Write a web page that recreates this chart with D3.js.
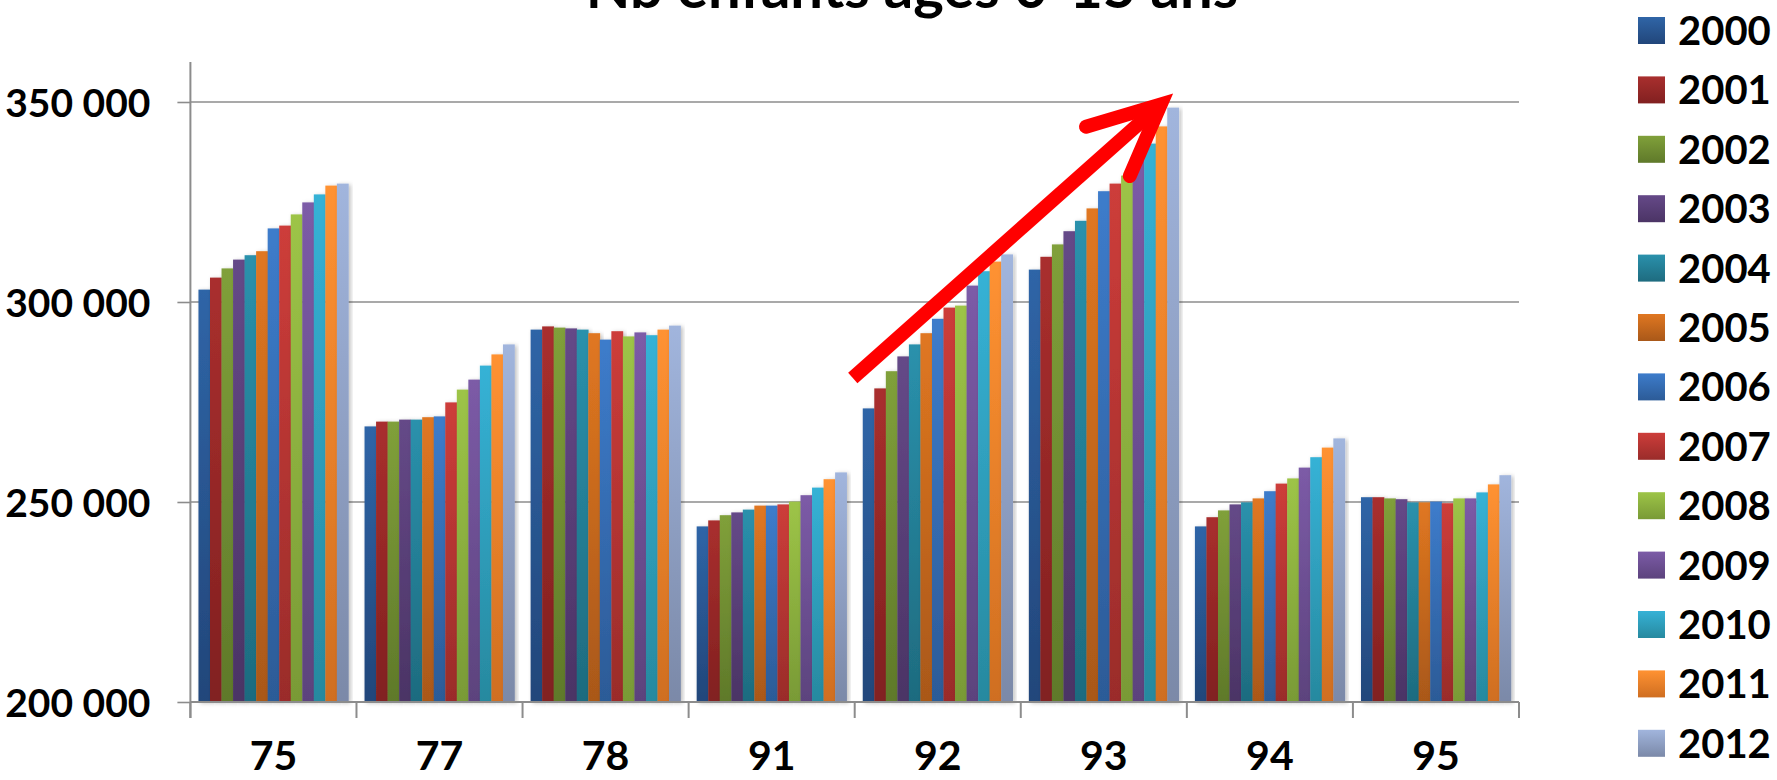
<!DOCTYPE html>
<html>
<head>
<meta charset="utf-8">
<script src="https://cdn.jsdelivr.net/npm/d3@7"></script>
<style>
  body { margin: 0; background: #fff; }
  text { font-family: Lato, "Open Sans", sans-serif; font-weight: bold; fill: #000; }
</style>
</head>
<body>
<div id="chart"></div>
<script>
// departements
var departements = ["75", "77", "78", "91", "92", "93", "94", "95"];
var years = ["2000", "2001", "2002", "2003", "2004", "2005", "2006", "2007", "2008", "2009", "2010", "2011", "2012"];

// one array per departement, values 2000..2012
var v75 = [303100, 306100, 308400, 310600, 311700, 312700, 318400, 319100, 321900, 324900, 326900, 329100, 329600];
var v77 = [268900, 270100, 270100, 270600, 270600, 271200, 271400, 274900, 278100, 280600, 284100, 286900, 289400];
var v78 = [293100, 293900, 293600, 293400, 293100, 292200, 290600, 292700, 291400, 292400, 291700, 293100, 294100];
var v91 = [243900, 245400, 246700, 247400, 248100, 249100, 249100, 249400, 250100, 251700, 253600, 255700, 257400];
var v92 = [273400, 278400, 282700, 286400, 289400, 292200, 295800, 298600, 299100, 304100, 307700, 310100, 311900];
var v93 = [308100, 311300, 314400, 317700, 320300, 323400, 327700, 329600, 331600, 336100, 339600, 343900, 348600];
var v94 = [243900, 246200, 247900, 249400, 249900, 250900, 252700, 254600, 255900, 258600, 261200, 263600, 265900];
var v95 = [251200, 251200, 250900, 250700, 249900, 249900, 250100, 249700, 250900, 250900, 252400, 254400, 256700];

var yTicks = [200000, 250000, 300000, 350000];

// gradient top / bottom colours per year
var colTop = ["#2f65a7", "#a92f2e", "#80a03a", "#654988", "#2a91ac", "#e07721", "#3d7ccb", "#cd3d3a", "#9dc447", "#7c5ba7", "#36b2d6", "#ff9232", "#a1b5dd"];
var colBot = ["#22467a", "#812020", "#5f792a", "#4b3465", "#1e6b7f", "#a95819", "#2c5b97", "#9a2c2a", "#799a36", "#5c437d", "#27899f", "#cf6e21", "#7b89a8"];

function init() {
    var w = 1777, h = 780;
    var margin = {top: 62, left: 190.4, right: 258, bottom: 77.6};

    var rows = departements.map(function (d, i) {
        return {dep: d, values: [v75, v77, v78, v91, v92, v93, v94, v95][i]};
    });

    var svg = d3.select("#chart")
        .append("svg")
        .attr("width", w)
        .attr("height", h);

    var defs = svg.append("defs");
    years.forEach(function (yr, i) {
        var g = defs.append("linearGradient")
            .attr("id", "g" + yr)
            .attr("x1", 0).attr("y1", 0).attr("x2", 0).attr("y2", 1);
        g.append("stop").attr("offset", "0%").attr("stop-color", colTop[i]);
        g.append("stop").attr("offset", "100%").attr("stop-color", colBot[i]);
    });
    var shadow = defs.append("filter").attr("id", "shadow")
        .attr("x", "-20%").attr("y", "-5%").attr("width", "150%").attr("height", "115%");
    shadow.append("feDropShadow")
        .attr("dx", 2).attr("dy", 1).attr("stdDeviation", 2)
        .attr("flood-color", "#000").attr("flood-opacity", 0.25);

    var x0 = d3.scaleBand()
        .domain(departements)
        .range([margin.left, w - margin.right])
        .paddingInner(0.097)
        .paddingOuter(0.0485);

    var x1 = d3.scaleBand()
        .domain(years)
        .range([0, x0.bandwidth()]);

    var y = d3.scaleLinear()
        .domain([200000, 360000])
        .range([h - margin.bottom - 0.4, margin.top]);

    var fmt = function (d) { return d3.format(",")(d).replace(/,/g, " "); };

    // gridlines
    svg.append("g")
        .selectAll("line")
        .data(yTicks.slice(1))
        .enter()
        .append("line")
        .attr("x1", margin.left)
        .attr("x2", w - margin.right)
        .attr("y1", function (d) { return y(d); })
        .attr("y2", function (d) { return y(d); })
        .attr("stroke", "#8c8c8c")
        .attr("stroke-width", 1.6);

    // y axis
    var yAxis = svg.append("g")
        .attr("transform", "translate(" + margin.left + ",0)")
        .call(d3.axisLeft(y).tickValues(yTicks).tickFormat(fmt).tickSize(13).tickPadding(27));
    yAxis.select(".domain").remove();
    yAxis.selectAll(".tick line").attr("stroke", "#8c8c8c").attr("stroke-width", 1.6);
    yAxis.selectAll("text")
        .attr("font-size", 39)
        .attr("dy", "0.36em")
        .style("font-family", "Lato, sans-serif");
    svg.append("line")
        .attr("x1", margin.left).attr("x2", margin.left)
        .attr("y1", y(360000)).attr("y2", y(200000) + 16)
        .attr("stroke", "#8c8c8c").attr("stroke-width", 2);

    // bars
    var groups = svg.append("g")
        .selectAll("g")
        .data(rows)
        .enter()
        .append("g")
        .attr("transform", function (d) { return "translate(" + x0(d.dep) + ",0)"; });

    groups.selectAll("rect")
        .data(function (d) { return d.values.map(function (v, i) { return {year: years[i], value: v}; }); })
        .enter()
        .append("rect")
        .attr("x", function (d) { return x1(d.year); })
        .attr("width", x1.bandwidth() + 0.3)
        .attr("y", function (d) { return y(d.value); })
        .attr("height", function (d) { return y(200000) - y(d.value); })
        .attr("fill", function (d) { return "url(#g" + d.year + ")"; })
        .attr("filter", "url(#shadow)");

    // x axis
    var xAxis = svg.append("g")
        .attr("transform", "translate(0," + y(200000) + ")")
        .call(d3.axisBottom(x0).tickSize(0).tickPadding(39));
    xAxis.select(".domain").remove();
    xAxis.selectAll("text")
        .attr("font-size", 41)
        .style("font-family", "Lato, sans-serif");
    svg.append("line")
        .attr("x1", margin.left).attr("x2", w - margin.right)
        .attr("y1", y(200000)).attr("y2", y(200000))
        .attr("stroke", "#8c8c8c").attr("stroke-width", 2);
    svg.append("g")
        .selectAll("line")
        .data(departements.concat(["end"]))
        .enter()
        .append("line")
        .attr("x1", function (d, i) { return margin.left + i * x0.step(); })
        .attr("x2", function (d, i) { return margin.left + i * x0.step(); })
        .attr("y1", y(200000))
        .attr("y2", y(200000) + 16)
        .attr("stroke", "#8c8c8c")
        .attr("stroke-width", 2);

    // title (cut at the top in the original)
    svg.append("text")
        .attr("x", 912)
        .attr("y", 8)
        .attr("text-anchor", "middle")
        .attr("font-size", 58)
        .text("Nb enfants âgés 0-15 ans");

    // legend
    var legend = svg.append("g")
        .selectAll("g")
        .data(years)
        .enter()
        .append("g")
        .attr("transform", function (d, i) { return "translate(1638," + (30.5 + i * 59.4) + ")"; });
    legend.append("rect")
        .attr("x", 0).attr("y", -13.5)
        .attr("width", 27).attr("height", 27)
        .attr("fill", function (d) { return "url(#g" + d + ")"; });
    legend.append("text")
        .attr("x", 40)
        .attr("y", 0)
        .attr("dy", "0.36em")
        .attr("font-size", 40)
        .text(function (d) { return d; });

    // red arrow annotation
    var tail = [x0("92") - x0.step() * 0.06, y(281000)];
    var tip = [x0("93") + x1("2011") + 5, y(349400)];
    var ang = Math.atan2(tail[1] - tip[1], tail[0] - tip[0]);
    var wing = 78, spread = 25 * Math.PI / 180;
    var w1 = [tip[0] + wing * Math.cos(ang + spread), tip[1] + wing * Math.sin(ang + spread)];
    var w2 = [tip[0] + wing * Math.cos(ang - spread), tip[1] + wing * Math.sin(ang - spread)];
    var shaftEnd = [tip[0] + 10 * Math.cos(ang), tip[1] + 10 * Math.sin(ang)];

    svg.append("path")
        .attr("d", d3.line()([tail, shaftEnd]))
        .attr("stroke", "#ff0000")
        .attr("stroke-width", 14)
        .attr("fill", "none");
    svg.append("path")
        .attr("d", d3.line()([w1, tip, w2]))
        .attr("stroke", "#ff0000")
        .attr("stroke-width", 14)
        .attr("stroke-linecap", "round")
        .attr("stroke-linejoin", "miter")
        .attr("fill", "none");
}

window.onload = init;
</script>
</body>
</html>
